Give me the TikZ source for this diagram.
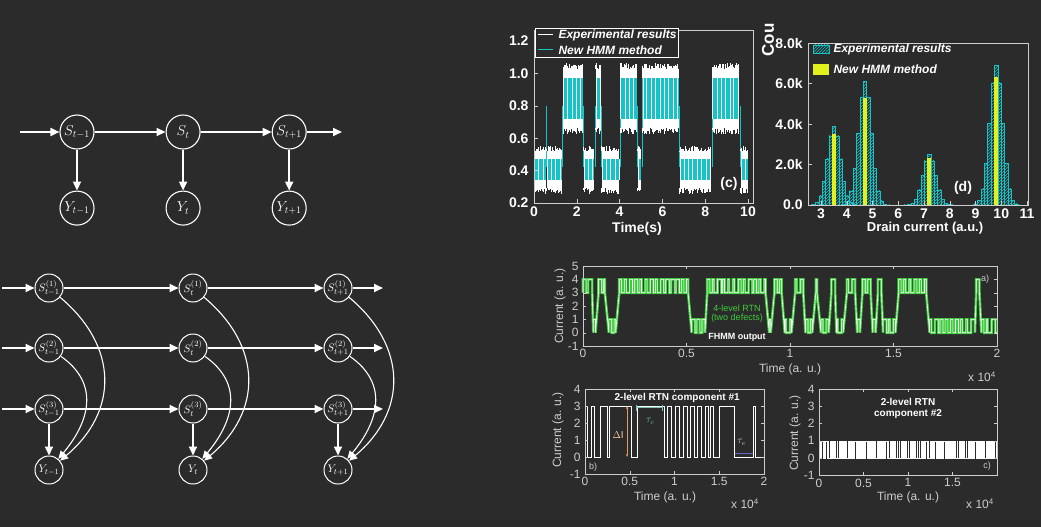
\documentclass[tikz,border=0pt]{standalone}
\usepackage{fontspec}
\setmainfont{Liberation Sans}
\usepackage{tikz}
\usetikzlibrary{positioning}
\usetikzlibrary{arrows.meta}
\usetikzlibrary{patterns}
\usepackage{xcolor}
\definecolor{background}{HTML}{2B2B2B}
\definecolor{hmmcyan}{HTML}{16C4C8}
\definecolor{rtngreen}{HTML}{3CCC3C}
\definecolor{hmmyellow}{HTML}{E2F01E}
\definecolor{axisgray}{HTML}{CDCDCD}
\definecolor{dIorange}{HTML}{E89A5A}
\definecolor{tauteal}{HTML}{78C4B0}
\definecolor{taublue}{HTML}{6464D0}

% slow defect of the 4-level trace (0 or 3)
\pgfmathdeclarefunction{slowrtn}{1}{%
  \begingroup
  \pgfmathparse{3*((#1<0.03)+(#1>0.07)*(#1<0.11)+(#1>0.17)*(#1<0.25)+(#1>0.27)*(#1<0.52)+(#1>0.58)*(#1<0.89)+(#1>0.92)*(#1<0.96)+(#1>1.01)*(#1<1.06)+(#1>1.1)*(#1<1.14)+(#1>1.18)*(#1<1.22)+(#1>1.26)*(#1<1.3)+(#1>1.34)*(#1<1.38)+(#1>1.4)*(#1<1.43)+(#1>1.5)*(#1<1.67)+(#1>1.885)*(#1<1.905))}%
  \pgfmathsmuggle\pgfmathresult
  \endgroup}
\def\slowlist{0/0.03, 0.07/0.11, 0.17/0.25, 0.27/0.52, 0.58/0.89, 0.92/0.96, 1.01/1.06, 1.1/1.14, 1.18/1.22, 1.26/1.3, 1.34/1.38, 1.4/1.43, 1.5/1.67, 1.885/1.905}

\tikzset{
  state/.style={draw=white, circle, line width=1.1pt, minimum size=34pt, inner sep=0pt, text=white, font=\fontsize{14}{14}\selectfont},
  fstate/.style={draw=white, circle, line width=1pt, minimum size=28pt, inner sep=0pt, text=white, font=\fontsize{11}{11}\selectfont},
  arr/.style={white, line width=1.8pt, -{Triangle[length=9pt,width=8pt]}},
  carr/.style={white, line width=1.1pt, -{Triangle[length=8pt,width=7pt]}},
  boldlab/.style={text=white, font=\fontsize{14}{14}\selectfont\bfseries},
  leglab/.style={text=white, font=\fontsize{12}{12}\selectfont\bfseries\itshape, anchor=west},
  ticklab/.style={text=axisgray, font=\fontsize{12}{12}\selectfont},
  notelab/.style={text=white, font=\fontsize{9}{10}\selectfont\bfseries},
}

\begin{document}
\begin{tikzpicture}[x=1pt, y=-1pt]
  \fill[background] (0,0) rectangle (1041,527);
  \useasboundingbox (0,0) rectangle (1041,527);

  % hidden Markov model
  \node[state] (hs1) at (77,132) {$S_{t-1}$};
  \node[state, right=71pt of hs1] (hs2) {$S_{t}$};
  \node[state, right=71pt of hs2] (hs3) {$S_{t+1}$};
  \node[state, below=41pt of hs1] (hy1) {$Y_{t-1}$};
  \node[state, below=41pt of hs2] (hy2) {$Y_{t}$};
  \node[state, below=41pt of hs3] (hy3) {$Y_{t+1}$};
  \coordinate (hin) at (20,132);
  \coordinate (hout) at (342,132);
  \draw[arr] (hin) -- (hs1);
  \draw[arr] (hs1) -- (hs2);
  \draw[arr] (hs2) -- (hs3);
  \draw[arr] (hs3) -- (hout);
  \foreach \i in {1,2,3}
    \draw[arr] (hs\i) -- (hy\i);

  % factorial hidden Markov model
  \foreach \col/\x/\sub in {a/49/{t-1}, b/193/t, c/338/{t+1}} {
    \node[fstate] (f1-\col) at (\x,288) {$S^{(1)}_{\sub}$};
    \node[fstate] (f2-\col) at (\x,348) {$S^{(2)}_{\sub}$};
    \node[fstate] (f3-\col) at (\x,409) {$S^{(3)}_{\sub}$};
    \node[fstate] (fy-\col) at (\x,470) {$Y_{\sub}$};
    \draw[arr] (f3-\col) -- (fy-\col);
    \draw[carr] (f2-\col) to[out=-35, in=50, looseness=1.2] (fy-\col);
    \draw[carr] (f1-\col) to[out=-40, in=40, looseness=1.2] (fy-\col);
  }
  \foreach \row/\y in {1/288, 2/348, 3/409} {
    \coordinate (fin\row) at (2,\y);
    \coordinate (fout\row) at (383,\y);
    \draw[arr] (fin\row) -- (f\row-a);
    \draw[arr] (f\row-a) -- (f\row-b);
    \draw[arr] (f\row-b) -- (f\row-c);
    \draw[arr] (f\row-c) -- (fout\row);
  }

  % (c) measured trace and HMM fit
  \begin{scope}[shift={(534,235.4)}, x=21.4pt, y=162pt]
    \pgfmathsetseed{5}
    \foreach \ta/\tb/\lo/\hi/\cl/\ch in {0/0.55/0.29/0.52/0.34/0.47, 0.6/1.32/0.29/0.52/0.34/0.47,
        1.35/2.28/0.66/1.03/0.72/0.97, 2.32/2.78/0.29/0.52/0.34/0.47, 2.88/3.12/0.66/1.03/0.72/0.97,
        3.16/3.98/0.29/0.52/0.34/0.47, 4.03/4.8/0.66/1.03/0.72/0.97, 4.84/5.0/0.29/0.52/0.34/0.47,
        5.06/6.76/0.66/1.03/0.72/0.97, 6.8/8.28/0.29/0.52/0.34/0.47, 8.32/9.6/0.66/1.03/0.72/0.97,
        9.66/9.98/0.29/0.52/0.34/0.47} {
      \fill[white] (\ta,\lo) rectangle (\tb,\hi);
      \fill[hmmcyan] (\ta,\cl) rectangle (\tb,\ch);
      \draw[hmmcyan, line width=.8pt] (\ta,0.42) -- (\ta,0.8);
      \pgfmathtruncatemacro\nsteps{(\tb-\ta)/0.05}
      \foreach \k in {0,...,\nsteps} {
        \pgfmathsetmacro\tx{\ta+\k*0.05}
        \pgfmathsetmacro\sx{\tx+0.025*rnd}
        \pgfmathtruncatemacro\gap{mod(\k,4)}
        \draw[white, line width=.7pt] (\tx,\hi) -- (\tx,\hi+0.035*rnd);
        \draw[white, line width=.7pt] (\tx,\lo) -- (\tx,\lo-0.035*rnd);
        \ifnum\gap=0
          \draw[white, line width=.3pt] (\sx,\cl) -- (\sx,\ch);
        \fi
      }
    }
    \draw[axisgray, line width=.6pt] (0,0.2) rectangle (10.23,1.265);
    \foreach \v in {0.2,0.4,0.6,0.8,1.0,1.2} {
      \draw[axisgray] (0,\v) -- ++(4pt,0);
      \node[boldlab, left=2pt] at (0,\v) {\v};
    }
    \foreach \tx in {0,2,4,6,8,10} {
      \draw[axisgray] (\tx,0.2) -- ++(0,4pt);
      \node[boldlab, below=0pt] at (\tx,0.2) {\tx};
    }
  \end{scope}
  \draw[white, line width=.6pt, fill=background] (535,28) rectangle (678,57);
  \draw[white, line width=1pt] (538,35) -- (553,35);
  \draw[hmmcyan, line width=1pt] (538,50) -- (553,50);
  \node[leglab] (cleg1) at (555,35) {Experimental results};
  \node[leglab] (cleg2) at (555,50) {New HMM method};
  \node[boldlab] (cname) at (729,184) {(c)};
  \node[boldlab] (ctime) at (637,229) {Time(s)};

  % (d) histogram
  \begin{scope}[shift={(743.75,205)}, x=25.75pt, y=20.25pt]
    \foreach \pk/\amp/\fit in {3.5/3.9/3.5, 4.7/6.1/5.3, 7.2/2.5/2.3, 9.8/6.9/6.3} {
      \foreach \k in {-7,...,7} {
        \pgfmathsetmacro\hk{\amp*exp(-0.135*\k*\k)}
        \draw[hmmcyan, line width=.5pt, pattern=north east lines, pattern color=hmmcyan]
          (\pk+\k*0.13-0.065,0) rectangle (\pk+\k*0.13+0.065,\hk);
      }
      \fill[hmmyellow] (\pk-0.07,0) rectangle (\pk+0.07,\fit);
    }
    \draw[axisgray, line width=.6pt] (2.5,0) rectangle (11.05,8);
    \foreach \v/\lab in {0/0.0, 2/2.0k, 4/4.0k, 6/6.0k, 8/8.0k} {
      \draw[axisgray] (2.5,\v) -- ++(4pt,0);
      \node[boldlab, left=2pt] at (2.5,\v) {\lab};
    }
    \foreach \tx in {3,...,11} {
      \draw[axisgray] (\tx,0) -- ++(0,4pt);
      \node[boldlab, below=0pt] at (\tx,0) {\tx};
    }
  \end{scope}
  \draw[hmmcyan, line width=.5pt, pattern=north east lines, pattern color=hmmcyan] (813,45) rectangle (829,53);
  \node[leglab] (dleg1) at (830,49) {Experimental results};
  \fill[hmmyellow] (813,64) rectangle (829,75);
  \node[leglab] (dleg2) at (830,69) {New HMM method};
  \node[boldlab] (dname) at (963,188) {(d)};
  \node[boldlab, font=\fontsize{13}{13}\selectfont\bfseries] (dcur) at (925,228) {Drain current (a.u.)};
  \node[boldlab, rotate=90, font=\fontsize{17}{17}\selectfont\bfseries] (cou) at (768,40) {Cou};

  % a) 4-level RTN and FHMM output
  \begin{scope}[shift={(583,332.7)}, x=207pt, y=13.33pt]
    \pgfmathsetseed{11}
    \draw[white, line width=.6pt, preaction={draw, rtngreen, line width=2.6pt}] (0,3)
      \foreach \i [evaluate=\i as \tx using \i*0.025, evaluate=\i as \w using 0.005+0.015*rnd, evaluate=\i as \base using {slowrtn(\i*0.025)}] in {0,...,79}
        { -- (\tx,\base) -- (\tx,\base+1) -- (\tx+\w,\base+1) -- (\tx+\w,\base) } -- (2,0);
    \draw[axisgray, line width=.5pt] (0,-1) rectangle (2,5);
    \foreach \v in {-1,...,5} {
      \draw[axisgray] (0,\v) -- ++(3pt,0);
      \draw[axisgray] (2,\v) -- ++(-3pt,0);
      \node[ticklab, left=1pt] at (0,\v) {\v};
    }
    \foreach \tx in {0,0.5,1,1.5,2} {
      \draw[axisgray] (\tx,-1) -- ++(0,3pt);
      \draw[axisgray] (\tx,5) -- ++(0,-3pt);
      \node[ticklab, below=0pt] at (\tx,-1) {\tx};
    }
  \end{scope}
  \node[notelab, text=rtngreen, font=\fontsize{9}{10}\selectfont] (arnt) at (737,308) {4-level RTN};
  \node[notelab, text=rtngreen, font=\fontsize{9}{10}\selectfont] (adef) at (737,318) {(two defects)};
  \node[notelab] (aout) at (737,337) {FHMM output};
  \node[ticklab, font=\fontsize{9}{9}\selectfont] (aname) at (985,279) {a)};
  \node[ticklab] (atime) at (790,369) {Time (a. u.)};
  \node[ticklab] (aexp) at (982,377) {x 10\textsuperscript{4}};
  \node[ticklab, rotate=90] (acur) at (560,306) {Current (a. u.)};

  % b) slow component
  \begin{scope}[shift={(585,457)}, x=89.5pt, y=17pt]
    \draw[white, line width=.8pt] (0,0)
      \foreach \ta/\tb in \slowlist { -- (\ta,0) -- (\ta,3) -- (\tb,3) -- (\tb,0) } -- (2,0);
    \draw[dIorange, line width=.5pt, {Stealth[length=3pt]}-{Stealth[length=3pt]}] (0.47,0) -- (0.47,3);
    \node[text=dIorange!50!white] (dI) at (0.37,1.3) {$\Delta\mathrm{I}$};
    \draw[tauteal, line width=.8pt, |-|] (0.57,2.9) -- (0.87,2.9);
    \node[text=tauteal] (tc) at (0.73,2.1) {$\tau_c$};
    \draw[taublue, line width=1pt] (1.68,0.18) -- (1.88,0.18);
    \node[text=axisgray] (te) at (1.75,0.85) {$\tau_e$};
    \draw[axisgray, line width=.5pt] (0,-1) rectangle (2,4);
    \foreach \v in {-1,...,4} {
      \draw[axisgray] (0,\v) -- ++(3pt,0);
      \draw[axisgray] (2,\v) -- ++(-3pt,0);
      \node[ticklab, left=1pt] at (0,\v) {\v};
    }
    \foreach \tx in {0,0.5,1,1.5,2} {
      \draw[axisgray] (\tx,-1) -- ++(0,3pt);
      \draw[axisgray] (\tx,4) -- ++(0,-3pt);
      \node[ticklab, below=0pt] at (\tx,-1) {\tx};
    }
    \node[notelab, font=\fontsize{10}{11}\selectfont\bfseries] (bcomp) at (1.03,3.47) {2-level RTN component \#1};
    \node[ticklab, font=\fontsize{9}{9}\selectfont] (bname) at (0.09,-0.59) {b)};
  \end{scope}
  \node[ticklab] (btime) at (665,497) {Time (a. u.)};
  \node[ticklab] (bexp) at (745,504) {x 10\textsuperscript{4}};
  \node[ticklab, rotate=90] (bcur) at (558,430) {Current (a. u.)};

  % c) fast component
  \begin{scope}[shift={(819,458)}, x=89pt, y=17.2pt]
    \pgfmathsetseed{11}
    \draw[white, line width=.6pt] (0,0)
      \foreach \i [evaluate=\i as \tx using \i*0.025, evaluate=\i as \w using 0.005+0.015*rnd] in {0,...,79}
        { -- (\tx,0) -- (\tx,1) -- (\tx+\w,1) -- (\tx+\w,0) } -- (2,0);
    \draw[axisgray, line width=.5pt] (0,-1) rectangle (2,4);
    \foreach \v in {-1,...,4} {
      \draw[axisgray] (0,\v) -- ++(3pt,0);
      \draw[axisgray] (2,\v) -- ++(-3pt,0);
      \node[ticklab, left=1pt] at (0,\v) {\v};
    }
    \foreach \tx in {0,0.5,1,1.5} {
      \draw[axisgray] (\tx,-1) -- ++(0,3pt);
      \draw[axisgray] (\tx,4) -- ++(0,-3pt);
      \node[ticklab, below=0pt] at (\tx,-1) {\tx};
    }
    \node[notelab, font=\fontsize{10}{11}\selectfont\bfseries] (crtn) at (1,3.26) {2-level RTN};
    \node[notelab, font=\fontsize{10}{11}\selectfont\bfseries] (ccomp) at (1,2.56) {component \#2};
    \node[ticklab, font=\fontsize{9}{9}\selectfont] (cname2) at (1.89,-0.47) {c)};
  \end{scope}
  \node[ticklab] (c2time) at (908,497) {Time (a. u.)};
  \node[ticklab] (c2exp) at (980,504) {x 10\textsuperscript{4}};
  \node[ticklab, rotate=90] (c2cur) at (795,433) {Current (a. u.)};
\end{tikzpicture}
\end{document}
